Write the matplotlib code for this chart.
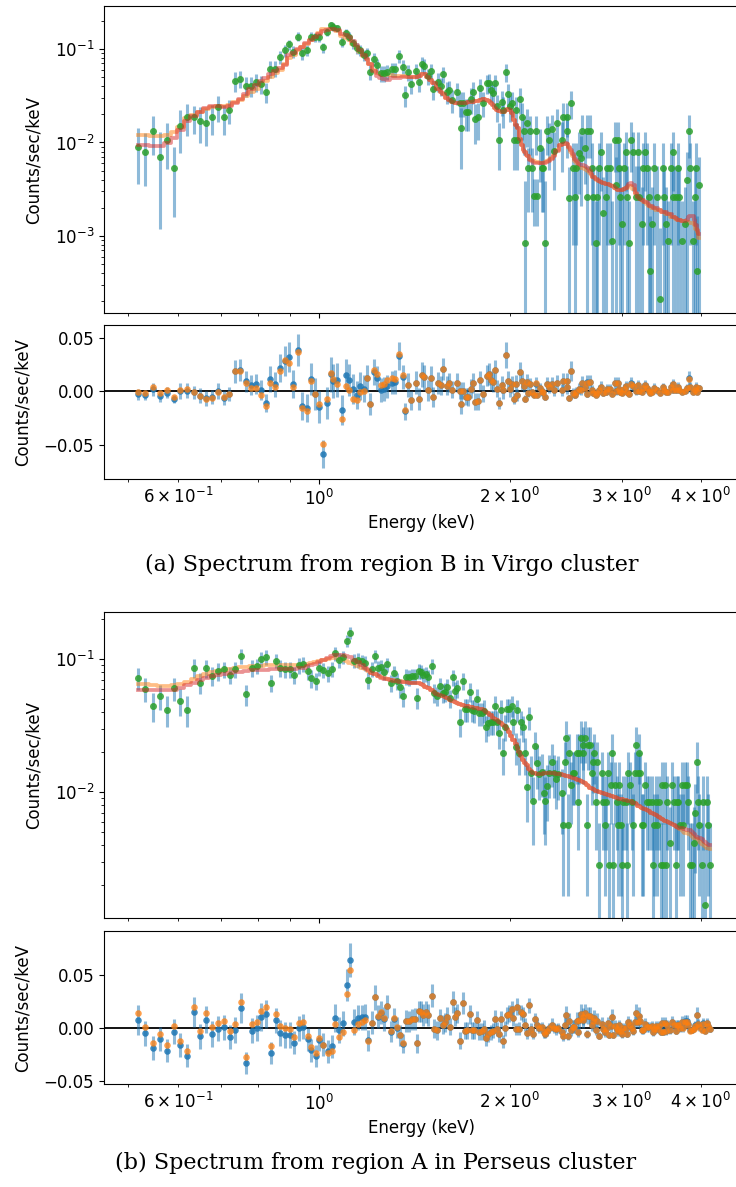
import matplotlib.pyplot as plt
import numpy as np
from matplotlib.ticker import FixedLocator, FuncFormatter

# ---- (a) region B, Virgo cluster ----
energy_a = [
    0.518, 0.532, 0.547, 0.562, 0.576, 0.591, 0.604, 0.620, 0.634, 0.648,
    0.663, 0.679, 0.693, 0.708, 0.722, 0.737, 0.751, 0.766, 0.781, 0.796,
    0.810, 0.824, 0.838, 0.853, 0.868, 0.884, 0.898, 0.911, 0.927, 0.940,
    0.956, 0.970, 0.986, 0.999, 1.016, 1.028, 1.044, 1.053, 1.067, 1.088,
    1.103, 1.116, 1.133, 1.147, 1.161, 1.179, 1.189, 1.204, 1.221, 1.236,
    1.251, 1.266, 1.282,
    1.302, 1.318, 1.339, 1.355, 1.367, 1.383, 1.397, 1.422, 1.439, 1.455,
    1.466, 1.484, 1.500, 1.515, 1.543, 1.556, 1.571, 1.590, 1.606, 1.621,
    1.649, 1.669, 1.675, 1.689, 1.706, 1.720, 1.735, 1.748, 1.762, 1.780,
    1.794, 1.816, 1.838, 1.854, 1.867, 1.883, 1.897, 1.911, 1.925, 1.944,
    1.953, 1.970, 1.984, 2.001, 2.016, 2.030, 2.045, 2.055, 2.075, 2.090,
    2.105, 2.113, 2.126, 2.137, 2.152, 2.165, 2.183, 2.199, 2.209, 2.231,
    2.245, 2.258, 2.273, 2.286, 2.308, 2.328, 2.348, 2.371,
    2.414, 2.428, 2.459, 2.465, 2.482, 2.497, 2.513, 2.534, 2.543, 2.574,
    2.587, 2.602, 2.628, 2.644, 2.650, 2.676, 2.692, 2.708, 2.735, 2.742,
    2.768, 2.782, 2.808, 2.836, 2.849, 2.877, 2.899, 2.931, 2.941, 2.966,
    2.977, 2.984, 3.006, 3.028, 3.050, 3.064, 3.087, 3.102, 3.131, 3.162,
    3.189, 3.200, 3.232, 3.248, 3.271, 3.288, 3.311, 3.328, 3.352, 3.376,
    3.409, 3.451, 3.484, 3.501, 3.526, 3.556, 3.587, 3.613, 3.621, 3.657,
    3.688, 3.702, 3.738, 3.775, 3.802, 3.830, 3.848, 3.886, 3.914, 3.932,
    3.952, 3.981]
counts_a = [
    0.0089, 0.0080, 0.0133, 0.0070, 0.0106, 0.0053, 0.0150, 0.0186, 0.0186, 0.0169,
    0.0160, 0.0186, 0.0242, 0.0186, 0.0223, 0.0455, 0.0481, 0.0405, 0.0405, 0.0441,
    0.0423, 0.0347, 0.0616, 0.0616, 0.0815, 0.0969, 0.1122, 0.0935, 0.1355, 0.0899,
    0.0969, 0.1355, 0.1334, 0.1334, 0.1042, 0.1531, 0.1806, 0.1733, 0.1665, 0.1197,
    0.1472, 0.1355, 0.1151, 0.1017, 0.0976, 0.0862, 0.0899, 0.0571, 0.0776, 0.0675,
    0.0549, 0.0549, 0.0571,
    0.0606, 0.0606, 0.0842, 0.0647, 0.0322, 0.0564, 0.0419, 0.0586, 0.0447, 0.0692,
    0.0663, 0.0514, 0.0586, 0.0376, 0.0447, 0.0402, 0.0536, 0.0349, 0.0364, 0.0285,
    0.0344, 0.0267, 0.0142, 0.0267, 0.0213, 0.0213, 0.0292, 0.0349, 0.0177, 0.0186,
    0.0385, 0.0267, 0.0430, 0.0436, 0.0364, 0.0336, 0.0430, 0.0246, 0.0106, 0.0273,
    0.0223, 0.0564, 0.0328, 0.0246, 0.0267, 0.0106, 0.0223, 0.0106, 0.0292, 0.0186,
    0.0133, 0.00084, 0.0160, 0.0053, 0.0133, 0.0053, 0.00268, 0.0133, 0.00268, 0.0088,
    0.0053, 0.0053, 0.00084, 0.0133, 0.0106, 0.0138, 0.0081, 0.0160,
    0.0106, 0.0189, 0.0189, 0.0133, 0.00253, 0.0267, 0.0053, 0.00263, 0.0053, 0.0078,
    0.0069, 0.0133, 0.0088, 0.00263, 0.0133, 0.0133, 0.0053, 0.00263, 0.00084, 0.00263,
    0.0053, 0.0080, 0.00178, 0.00263, 0.0053, 0.0053, 0.00088, 0.0106, 0.00354, 0.0106,
    0.0053, 0.00263, 0.00133, 0.0053, 0.0080, 0.00263, 0.00084, 0.0106, 0.0080, 0.00263,
    0.0080, 0.00263, 0.00133, 0.0053, 0.0080, 0.0053, 0.00263, 0.00042, 0.00133, 0.0053,
    0.00263, 0.00021, 0.0053, 0.00263, 0.00133, 0.00088, 0.0053, 0.00263, 0.0080, 0.00263,
    0.0053, 0.00263, 0.00088, 0.00133, 0.0040, 0.0133, 0.0053, 0.00088, 0.00263, 0.0053,
    0.00042, 0.00354]
err_a = [
    0.0053, 0.0046, 0.0060, 0.0058, 0.0054, 0.0037, 0.0072, 0.0070, 0.0062, 0.0070,
    0.0068, 0.0065, 0.0075, 0.0065, 0.0065, 0.0110, 0.0100, 0.0095, 0.0095, 0.0095,
    0.0095, 0.0085, 0.0125, 0.0120, 0.0130, 0.0140, 0.0140, 0.0130, 0.0150, 0.0130,
    0.0130, 0.0150, 0.0150, 0.0150, 0.0130, 0.0150, 0.0160, 0.0160, 0.0160, 0.0140,
    0.0150, 0.0150, 0.0140, 0.0130, 0.0130, 0.0125, 0.0125, 0.0105, 0.0120, 0.0115,
    0.0110, 0.0110, 0.0110,
    0.011, 0.011, 0.013, 0.011, 0.008, 0.011, 0.009, 0.011, 0.010, 0.012,
    0.012, 0.010, 0.011, 0.009, 0.010, 0.009, 0.010, 0.009, 0.009, 0.008,
    0.009, 0.008, 0.009, 0.008, 0.008, 0.008, 0.009, 0.009, 0.008, 0.008,
    0.009, 0.008, 0.010, 0.010, 0.009, 0.009, 0.010, 0.008, 0.0055, 0.008,
    0.008, 0.012, 0.009, 0.008, 0.008, 0.0055, 0.008, 0.0055, 0.009, 0.008,
    0.006, 0.003, 0.007, 0.0035, 0.006, 0.0035, 0.0014, 0.006, 0.0014, 0.005,
    0.0035, 0.0035, 0.003, 0.006, 0.0055, 0.006, 0.005, 0.007,
    0.0058, 0.0075, 0.0075, 0.0065, 0.0030, 0.0090, 0.0045, 0.0030, 0.0045, 0.0050,
    0.0048, 0.0065, 0.0052, 0.0030, 0.0065, 0.0065, 0.0045, 0.0030, 0.0015, 0.0030,
    0.0045, 0.0050, 0.0025, 0.0030, 0.0045, 0.0045, 0.0015, 0.0058, 0.0035, 0.0058,
    0.0045, 0.0030, 0.0020, 0.0045, 0.0050, 0.0030, 0.0015, 0.0058, 0.0050, 0.0030,
    0.0050, 0.0030, 0.0020, 0.0045, 0.0050, 0.0045, 0.0030, 0.0012, 0.0020, 0.0045,
    0.0030, 0.0010, 0.0045, 0.0030, 0.0020, 0.0015, 0.0045, 0.0030, 0.0050, 0.0030,
    0.0045, 0.0030, 0.0015, 0.0020, 0.0040, 0.0065, 0.0045, 0.0015, 0.0030, 0.0045,
    0.0012, 0.0035]
model1_a = [
    0.0120, 0.0119, 0.0117, 0.0117, 0.0120, 0.0130, 0.0147, 0.0183, 0.0197, 0.0212,
    0.0228, 0.0240, 0.0243, 0.0246, 0.0252, 0.0271, 0.0285, 0.0314, 0.0347, 0.0373,
    0.0412, 0.0455, 0.0502, 0.0553, 0.0596, 0.0691, 0.0800, 0.0870, 0.0970, 0.1040,
    0.1130, 0.1240, 0.1360, 0.1480, 0.1630, 0.1640, 0.1650, 0.1640, 0.1560, 0.1370,
    0.1320, 0.1250, 0.1130, 0.1050, 0.0930, 0.0840, 0.0780, 0.0690, 0.0596, 0.0553,
    0.0540, 0.0527, 0.0527,
    0.0527, 0.0520, 0.0514, 0.0514, 0.0510, 0.0508, 0.0506, 0.0506, 0.0520, 0.0538,
    0.0535, 0.0508, 0.0465, 0.0430, 0.0370, 0.0349, 0.0330, 0.0297, 0.0285, 0.0270,
    0.0266, 0.0263, 0.0262, 0.0262, 0.0265, 0.0268, 0.0270, 0.0273, 0.0277, 0.0281,
    0.0285, 0.0290, 0.0285, 0.0275, 0.0262, 0.0250, 0.0235, 0.0222, 0.0217, 0.0214,
    0.0214, 0.0224, 0.0230, 0.0222, 0.0205, 0.0175, 0.0155, 0.0142, 0.0110, 0.0095,
    0.0084, 0.0079, 0.0074, 0.0071, 0.0067, 0.0065, 0.0063, 0.0062, 0.0062, 0.0061,
    0.0061, 0.0061, 0.0062, 0.0063, 0.0065, 0.0068, 0.0074, 0.0083,
    0.0095, 0.0097, 0.0097, 0.0096, 0.0088, 0.0080, 0.0072, 0.0063, 0.0060, 0.0054,
    0.0053, 0.0053, 0.0052, 0.0051, 0.0050, 0.0047, 0.0045, 0.0043, 0.0041, 0.0040,
    0.0039, 0.0038, 0.0037, 0.0036, 0.0036, 0.0035, 0.0034, 0.0033, 0.0032, 0.0031,
    0.0031, 0.0031, 0.0031, 0.0032, 0.0033, 0.0033, 0.0034, 0.0034, 0.0032, 0.0028,
    0.0026, 0.0025, 0.0024, 0.0023, 0.0023, 0.0022, 0.0021, 0.0021, 0.0020, 0.0020,
    0.0019, 0.0019, 0.0018, 0.0018, 0.0017, 0.0017, 0.0016, 0.0016, 0.0016, 0.00152,
    0.00150, 0.00148, 0.00145, 0.00143, 0.00140, 0.00140, 0.00139, 0.00137, 0.00130, 0.00120,
    0.00110, 0.00095]
model2_a = [
    0.0094, 0.0093, 0.0092, 0.0092, 0.0099, 0.0112, 0.0136, 0.0170, 0.0192, 0.0212,
    0.0234, 0.0246, 0.0246, 0.0240, 0.0246, 0.0264, 0.0292, 0.0330, 0.0373, 0.0412,
    0.0455, 0.0490, 0.0540, 0.0580, 0.0626, 0.0675, 0.0860, 0.0900, 0.0990, 0.1060,
    0.1150, 0.1260, 0.1360, 0.1450, 0.1540, 0.1600, 0.1640, 0.1620, 0.1600, 0.1460,
    0.1420, 0.1340, 0.1220, 0.1100, 0.0980, 0.0860, 0.0780, 0.0690, 0.0580, 0.0514,
    0.0490, 0.0478, 0.0466,
    0.0486, 0.0490, 0.0495, 0.0500, 0.0502, 0.0504, 0.0506, 0.0506, 0.0520, 0.0538,
    0.0535, 0.0508, 0.0465, 0.0430, 0.0370, 0.0349, 0.0330, 0.0297, 0.0285, 0.0270,
    0.0266, 0.0263, 0.0262, 0.0262, 0.0265, 0.0268, 0.0270, 0.0273, 0.0277, 0.0281,
    0.0285, 0.0290, 0.0285, 0.0275, 0.0262, 0.0250, 0.0235, 0.0222, 0.0217, 0.0214,
    0.0214, 0.0224, 0.0230, 0.0222, 0.0205, 0.0175, 0.0155, 0.0142, 0.0110, 0.0095,
    0.0084, 0.0079, 0.0074, 0.0071, 0.0065, 0.0063, 0.0061, 0.0061, 0.0060, 0.0060,
    0.0060, 0.0060, 0.0061, 0.0062, 0.0064, 0.0067, 0.0072, 0.0081,
    0.0095, 0.0097, 0.0098, 0.0097, 0.0090, 0.0083, 0.0075, 0.0066, 0.0064, 0.0059,
    0.0058, 0.0057, 0.0056, 0.0055, 0.0054, 0.0049, 0.0046, 0.0043, 0.0041, 0.0041,
    0.0039, 0.0038, 0.0037, 0.0036, 0.0036, 0.0035, 0.0034, 0.0033, 0.0032, 0.0031,
    0.0031, 0.0031, 0.0031, 0.0032, 0.0033, 0.0034, 0.0036, 0.0037, 0.0035, 0.0029,
    0.0026, 0.0025, 0.0024, 0.0024, 0.0023, 0.0023, 0.0022, 0.0021, 0.0021, 0.0020,
    0.0020, 0.0019, 0.0018, 0.0018, 0.0018, 0.0017, 0.0017, 0.0016, 0.0016, 0.00155,
    0.00150, 0.00150, 0.00145, 0.00145, 0.00150, 0.00158, 0.00162, 0.00162, 0.00150, 0.00130,
    0.00115, 0.00105]

# ---- (b) region A, Perseus cluster ----
energy_b = [
    0.518, 0.532, 0.547, 0.562, 0.576, 0.591, 0.604, 0.620, 0.635, 0.648,
    0.663, 0.679, 0.693, 0.708, 0.723, 0.738, 0.752, 0.766, 0.783, 0.797,
    0.811, 0.826, 0.841, 0.855, 0.869, 0.885, 0.900, 0.914, 0.930, 0.945,
    0.960, 0.971, 0.988, 1.001, 1.016, 1.032, 1.047, 1.060, 1.077, 1.090,
    1.106, 1.120, 1.136, 1.153, 1.169, 1.183, 1.196, 1.211, 1.225, 1.240,
    1.252, 1.268, 1.281, 1.297, 1.311, 1.327, 1.342, 1.357, 1.371, 1.388,
    1.400, 1.417, 1.429, 1.439,
    1.448, 1.460, 1.473, 1.484, 1.506, 1.518, 1.533, 1.552, 1.567, 1.580,
    1.594, 1.609, 1.625, 1.639, 1.649, 1.669, 1.686, 1.700, 1.714, 1.731,
    1.742, 1.756, 1.773, 1.788, 1.805, 1.821, 1.834, 1.849, 1.865, 1.883,
    1.892, 1.906, 1.922, 1.934, 1.953, 1.965, 1.982, 1.996, 2.013, 2.025,
    2.043, 2.055, 2.070, 2.083, 2.100, 2.115, 2.126, 2.144, 2.160, 2.178,
    2.191, 2.205, 2.226, 2.245, 2.264, 2.275, 2.291, 2.308, 2.328, 2.348,
    2.365, 2.385,
    2.414, 2.423, 2.443, 2.452, 2.473, 2.482, 2.497, 2.513, 2.527, 2.549,
    2.559, 2.574, 2.590, 2.605, 2.611, 2.628, 2.644, 2.660, 2.676, 2.692,
    2.702, 2.718, 2.735, 2.748, 2.768, 2.792, 2.802, 2.826, 2.836, 2.859,
    2.869, 2.884, 2.895, 2.912, 2.931, 2.949, 2.966, 2.977, 2.991, 3.002,
    3.020, 3.050, 3.064, 3.075, 3.094, 3.113, 3.131, 3.151, 3.162, 3.182,
    3.200, 3.208, 3.228, 3.248, 3.271, 3.288, 3.311, 3.348, 3.360, 3.376,
    3.401, 3.417, 3.434, 3.459, 3.475, 3.492, 3.513, 3.526, 3.542, 3.578,
    3.600, 3.631, 3.657, 3.666, 3.688, 3.710, 3.733, 3.755, 3.779, 3.802,
    3.825, 3.848, 3.873, 3.905, 3.923, 3.943, 3.966, 3.981, 4.015, 4.039,
    4.064, 4.089, 4.112, 4.138]
counts_b = [
    0.0723, 0.0595, 0.0446, 0.0527, 0.0416, 0.0602, 0.0486, 0.0416, 0.0855, 0.0664,
    0.0855, 0.0745, 0.0808, 0.0837, 0.0754, 0.0837, 0.1054, 0.0543, 0.0855, 0.0886,
    0.0995, 0.1030, 0.0664, 0.0971, 0.0855, 0.0837, 0.0837, 0.0762, 0.0897, 0.0917,
    0.0808, 0.0719, 0.0687, 0.0855, 0.0827, 0.0780, 0.0837, 0.1104, 0.0983, 0.1030,
    0.1373, 0.1578, 0.0971, 0.0983, 0.0961, 0.0938, 0.0695, 0.0837, 0.1054, 0.0851,
    0.0875, 0.0803, 0.0912, 0.0664, 0.0780, 0.0687, 0.0613, 0.0527, 0.0736, 0.0728,
    0.0745, 0.0745, 0.0512, 0.0812,
    0.0803, 0.0758, 0.0771, 0.0728, 0.0886, 0.0558, 0.0530, 0.0627, 0.0558, 0.0568,
    0.0613, 0.0507, 0.0728, 0.0578, 0.0602, 0.0338, 0.0687, 0.0419, 0.0419, 0.0568,
    0.0414, 0.0409, 0.0500, 0.0391, 0.0391, 0.0409, 0.0306, 0.0332, 0.0338, 0.0338,
    0.0444, 0.0338, 0.0279, 0.0414, 0.0195, 0.0310, 0.0419, 0.0419, 0.0444, 0.0338,
    0.0219, 0.0414, 0.0195, 0.0338, 0.0306, 0.0195, 0.0110, 0.0365, 0.0138, 0.0085,
    0.0222, 0.0166, 0.0137, 0.0142, 0.0098, 0.0085, 0.0111, 0.0140, 0.0169, 0.0140,
    0.0125, 0.0137,
    0.0098, 0.00565, 0.0167, 0.0254, 0.00565, 0.0195, 0.0113, 0.0140, 0.0140, 0.0195,
    0.00846, 0.0195, 0.0254, 0.0226, 0.0195, 0.0254, 0.00565, 0.0226, 0.0226, 0.0140,
    0.0169, 0.0195, 0.00846, 0.0169, 0.00283, 0.0140, 0.00846, 0.00565, 0.00846, 0.0140,
    0.00283, 0.0113, 0.0195, 0.00283, 0.0113, 0.00846, 0.00565, 0.0113, 0.00565, 0.00283,
    0.00846, 0.00846, 0.00283, 0.0140, 0.0113, 0.00846, 0.00565, 0.0140, 0.0226, 0.0140,
    0.0195, 0.0140, 0.00565, 0.00565, 0.0113, 0.00846, 0.00846, 0.00846, 0.00283, 0.00565,
    0.00846, 0.00565, 0.00846, 0.00283, 0.0113, 0.00283, 0.0113, 0.00283, 0.00846, 0.00416,
    0.0113, 0.00846, 0.00283, 0.00846, 0.00846, 0.00565, 0.0113, 0.00565, 0.0113, 0.0113,
    0.00846, 0.00283, 0.00283, 0.00416, 0.00698, 0.0169, 0.00846, 0.00565, 0.00283, 0.00846,
    0.00141, 0.00846, 0.00565, 0.00283]
err_b = [
    0.014, 0.012, 0.011, 0.011, 0.011, 0.012, 0.011, 0.011, 0.014, 0.012,
    0.013, 0.012, 0.012, 0.012, 0.011, 0.012, 0.014, 0.010, 0.012, 0.012,
    0.013, 0.013, 0.010, 0.012, 0.012, 0.012, 0.012, 0.011, 0.012, 0.012,
    0.011, 0.011, 0.010, 0.011, 0.011, 0.011, 0.011, 0.013, 0.012, 0.012,
    0.015, 0.016, 0.012, 0.012, 0.012, 0.012, 0.010, 0.011, 0.012, 0.011,
    0.011, 0.011, 0.011, 0.010, 0.010, 0.010, 0.010, 0.009, 0.010, 0.010,
    0.010, 0.010, 0.009, 0.010,
    0.010, 0.010, 0.010, 0.010, 0.011, 0.009, 0.009, 0.009, 0.009, 0.009,
    0.009, 0.008, 0.010, 0.009, 0.009, 0.008, 0.010, 0.008, 0.008, 0.009,
    0.008, 0.008, 0.009, 0.008, 0.008, 0.008, 0.007, 0.007, 0.007, 0.007,
    0.008, 0.007, 0.007, 0.008, 0.006, 0.007, 0.008, 0.008, 0.008, 0.007,
    0.006, 0.008, 0.006, 0.007, 0.007, 0.006, 0.005, 0.007, 0.005, 0.0045,
    0.006, 0.006, 0.005, 0.005, 0.005, 0.0045, 0.005, 0.005, 0.006, 0.005,
    0.005, 0.005,
    0.005, 0.004, 0.007, 0.009, 0.004, 0.008, 0.0055, 0.006, 0.006, 0.008,
    0.0048, 0.008, 0.009, 0.008, 0.008, 0.009, 0.004, 0.008, 0.008, 0.006,
    0.007, 0.008, 0.0048, 0.007, 0.003, 0.006, 0.0048, 0.004, 0.0048, 0.006,
    0.003, 0.0055, 0.008, 0.003, 0.0055, 0.0048, 0.004, 0.0055, 0.004, 0.003,
    0.0048, 0.0048, 0.003, 0.006, 0.0055, 0.0048, 0.004, 0.006, 0.008, 0.006,
    0.008, 0.006, 0.004, 0.004, 0.0055, 0.0048, 0.0048, 0.0048, 0.003, 0.004,
    0.0048, 0.004, 0.0048, 0.003, 0.0055, 0.003, 0.0055, 0.003, 0.0048, 0.0035,
    0.0055, 0.0048, 0.003, 0.0048, 0.0048, 0.004, 0.0055, 0.004, 0.0055, 0.0055,
    0.0048, 0.003, 0.003, 0.0035, 0.0045, 0.007, 0.0048, 0.004, 0.003, 0.0048,
    0.0025, 0.0048, 0.004, 0.003]
model1_b = [
    0.0645, 0.0645, 0.0636, 0.0632, 0.0630, 0.0636, 0.0646, 0.0676, 0.0705, 0.0744,
    0.0775, 0.0800, 0.0815, 0.0830, 0.0840, 0.0855, 0.0865, 0.0872, 0.0880, 0.0887,
    0.0892, 0.0896, 0.0899, 0.0900, 0.0902, 0.0902, 0.0902, 0.0900, 0.0900, 0.0905,
    0.0915, 0.0930, 0.0950, 0.0965, 0.0985, 0.1000, 0.1010, 0.1010, 0.1000, 0.0985,
    0.0965, 0.0940, 0.0915, 0.0885, 0.0860, 0.0835, 0.0810, 0.0785, 0.0765, 0.0745,
    0.0730, 0.0718, 0.0708, 0.0698, 0.0692, 0.0685, 0.0680, 0.0675, 0.0670, 0.0666,
    0.0663, 0.0660, 0.0658, 0.0656,
    0.0650, 0.0635, 0.0620, 0.0605, 0.0580, 0.0565, 0.0550, 0.0535, 0.0525, 0.0515,
    0.0505, 0.0493, 0.0482, 0.0472, 0.0465, 0.0457, 0.0451, 0.0446, 0.0442, 0.0438,
    0.0435, 0.0431, 0.0427, 0.0424, 0.0421, 0.0415, 0.0402, 0.0390, 0.0377, 0.0362,
    0.0356, 0.0348, 0.0338, 0.0330, 0.0320, 0.0313, 0.0300, 0.0285, 0.0265, 0.0246,
    0.0228, 0.0215, 0.0200, 0.0188, 0.0175, 0.0165, 0.0159, 0.0150, 0.0144, 0.0140,
    0.0138, 0.0137, 0.0137, 0.0137, 0.0138, 0.0138, 0.0138, 0.0138, 0.0138, 0.0138,
    0.0137, 0.0137,
    0.0136, 0.0135, 0.0134, 0.0133, 0.0131, 0.0130, 0.0129, 0.0128, 0.0127, 0.0125,
    0.0124, 0.0123, 0.0121, 0.0119, 0.0118, 0.0116, 0.0113, 0.0111, 0.0108, 0.0107,
    0.0106, 0.0104, 0.0102, 0.0101, 0.0100, 0.0099, 0.0098, 0.0097, 0.0096, 0.0095,
    0.0095, 0.0094, 0.0093, 0.0092, 0.0091, 0.0090, 0.0089, 0.0088, 0.0088, 0.0088,
    0.0087, 0.0087, 0.0086, 0.0086, 0.0086, 0.0085, 0.0083, 0.0082, 0.0081, 0.0079,
    0.0078, 0.0077, 0.0076, 0.0075, 0.0074, 0.0073, 0.0072, 0.0070, 0.0069, 0.0068,
    0.0067, 0.0066, 0.0065, 0.0064, 0.0063, 0.0062, 0.0061, 0.0061, 0.0060, 0.0059,
    0.0058, 0.0057, 0.0056, 0.0055, 0.0054, 0.0053, 0.0052, 0.0050, 0.0049, 0.0049,
    0.0048, 0.0048, 0.0047, 0.0045, 0.0044, 0.0044, 0.0043, 0.0042, 0.0041, 0.0040,
    0.0039, 0.0038, 0.0038, 0.0037]
model2_b = [
    0.0585, 0.0585, 0.0586, 0.0582, 0.0580, 0.0586, 0.0606, 0.0636, 0.0655, 0.0694,
    0.0715, 0.0740, 0.0760, 0.0775, 0.0785, 0.0795, 0.0805, 0.0812, 0.0820, 0.0825,
    0.0830, 0.0833, 0.0835, 0.0836, 0.0837, 0.0840, 0.0842, 0.0845, 0.0850, 0.0860,
    0.0880, 0.0900, 0.0925, 0.0950, 0.0985, 0.1020, 0.1050, 0.1065, 0.1072, 0.1070,
    0.1050, 0.1030, 0.0990, 0.0945, 0.0900, 0.0860, 0.0820, 0.0790, 0.0765, 0.0740,
    0.0725, 0.0712, 0.0702, 0.0693, 0.0687, 0.0680, 0.0676, 0.0672, 0.0668, 0.0664,
    0.0661, 0.0658, 0.0656, 0.0655,
    0.0650, 0.0635, 0.0620, 0.0605, 0.0580, 0.0565, 0.0550, 0.0535, 0.0525, 0.0515,
    0.0505, 0.0493, 0.0482, 0.0472, 0.0465, 0.0457, 0.0451, 0.0446, 0.0442, 0.0438,
    0.0435, 0.0431, 0.0427, 0.0424, 0.0421, 0.0415, 0.0402, 0.0390, 0.0377, 0.0362,
    0.0356, 0.0348, 0.0338, 0.0330, 0.0320, 0.0313, 0.0300, 0.0285, 0.0265, 0.0246,
    0.0228, 0.0215, 0.0200, 0.0188, 0.0175, 0.0165, 0.0159, 0.0150, 0.0144, 0.0140,
    0.0138, 0.0137, 0.0137, 0.0137, 0.0138, 0.0138, 0.0138, 0.0138, 0.0138, 0.0138,
    0.0137, 0.0137,
    0.0136, 0.0135, 0.0134, 0.0133, 0.0131, 0.0130, 0.0129, 0.0128, 0.0127, 0.0125,
    0.0124, 0.0123, 0.0121, 0.0119, 0.0118, 0.0116, 0.0113, 0.0111, 0.0108, 0.0107,
    0.0106, 0.0104, 0.0102, 0.0101, 0.0100, 0.0099, 0.0098, 0.0097, 0.0096, 0.0095,
    0.0095, 0.0094, 0.0093, 0.0092, 0.0091, 0.0090, 0.0089, 0.0088, 0.0088, 0.0088,
    0.0087, 0.0087, 0.0086, 0.0086, 0.0086, 0.0085, 0.0083, 0.0082, 0.0081, 0.0079,
    0.0078, 0.0077, 0.0076, 0.0075, 0.0074, 0.0073, 0.0072, 0.0070, 0.0069, 0.0068,
    0.0067, 0.0066, 0.0065, 0.0064, 0.0063, 0.0062, 0.0061, 0.0061, 0.0060, 0.0059,
    0.0058, 0.0057, 0.0056, 0.0055, 0.0054, 0.0054, 0.0054, 0.0053, 0.0053, 0.0052,
    0.0052, 0.0052, 0.0050, 0.0048, 0.0047, 0.0046, 0.0045, 0.0045, 0.0044, 0.0043,
    0.0042, 0.0041, 0.0040, 0.0040]

captions = ['(a) Spectrum from region B in Virgo cluster',
            '(b) Spectrum from region A in Perseus cluster']

# x tick labels shown under the residual panels
xtick_labels = {0.6: r'$\mathdefault{6\times10^{-1}}$', 1.0: r'$\mathdefault{10^{0}}$',
                2.0: r'$\mathdefault{2\times10^{0}}$', 3.0: r'$\mathdefault{3\times10^{0}}$',
                4.0: r'$\mathdefault{4\times10^{0}}$'}

plt.rcParams['font.size'] = 12

fig = plt.figure(figsize=(7.36, 11.87), dpi=100)
W, H = 736.0, 1187.0


def rect(left, top, right, bottom):
    return [left / W, 1 - bottom / H, (right - left) / W, (bottom - top) / H]


def tick_label(v, pos):
    for k, s in xtick_labels.items():
        if abs(v - k) < 1e-6:
            return s
    return ''


def spectrum(main_box, res_box, E, y, err, m1, m2, ylim_main, ylim_res):
    E = np.array(E)
    y = np.array(y)
    err = np.array(err)
    m1 = np.array(m1)
    m2 = np.array(m2)

    ax = fig.add_axes(rect(*main_box))
    axr = fig.add_axes(rect(*res_box), sharex=ax)

    ax.errorbar(E, y, yerr=err, fmt='none', ecolor='C0', elinewidth=2.2, alpha=0.5)
    ax.plot(E, m1, color='C1', lw=2.7, alpha=0.5, drawstyle='steps-mid')
    ax.plot(E, y, 'o', color='C2', ms=5, alpha=0.85, mec='none')
    ax.plot(E, m2, color='C3', lw=2.7, alpha=0.5, drawstyle='steps-mid')
    ax.set_xscale('log')
    ax.set_yscale('log')
    ax.set_xlim(0.458, 4.58)
    ax.set_ylim(*ylim_main)
    ax.set_ylabel('Counts/sec/keV', labelpad=9)
    ax.xaxis.set_major_locator(FixedLocator([1.0]))
    ax.xaxis.set_minor_locator(FixedLocator([0.5, 0.6, 0.7, 0.8, 0.9, 2.0, 3.0, 4.0]))
    ax.xaxis.set_major_formatter(FuncFormatter(tick_label))
    ax.xaxis.set_minor_formatter(FuncFormatter(tick_label))
    ax.tick_params(axis='x', which='both', labelbottom=False)

    # residuals: data minus each model
    axr.axhline(0, color='black', lw=1.3)
    axr.errorbar(E, y - m1, yerr=err, fmt='none', ecolor='C0', elinewidth=2.2, alpha=0.5)
    axr.plot(E, y - m1, 'o', color='C0', ms=4.7, alpha=0.85, mec='none')
    axr.plot(E, y - m2, 'o', color='C1', ms=4.7, alpha=0.75, mec='none')
    axr.set_ylim(*ylim_res)
    axr.set_yticks([-0.05, 0.0, 0.05])
    axr.set_ylabel('Counts/sec/keV', labelpad=9)
    axr.set_xlabel('Energy (keV)')
    axr.tick_params(axis='x', which='both', labelbottom=True)
    return ax, axr


spectrum((104, 6, 738, 313), (104, 325, 738, 479),
         energy_a, counts_a, err_a, model1_a, model2_a,
         (1.50e-4, 0.2884), (-0.082, 0.0617))
spectrum((104, 612, 738, 918), (104, 931, 738, 1084),
         energy_b, counts_b, err_b, model1_b, model2_b,
         (1.13e-3, 0.2256), (-0.0528, 0.0915))

fig.text(392 / W, 1 - 565 / H, captions[0], ha='center', va='center',
         family='DejaVu Serif', fontsize=16)
fig.text(376 / W, 1 - 1163 / H, captions[1], ha='center', va='center',
         family='DejaVu Serif', fontsize=16)

fig.savefig('out.png', dpi=100)
